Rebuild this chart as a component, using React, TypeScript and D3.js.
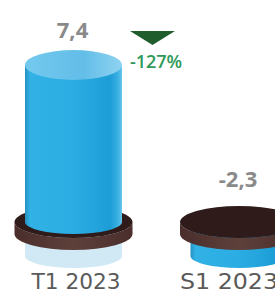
import React from "react";
import * as d3 from "d3";

const categories = ["T1 2023", "S1 2023"];
const values = [7.4, -2.3];
const valueLabels = ["7,4", "-2,3"];
const changeLabel = "-127%";

const W = 275;
const H = 293;

export default function App() {
  const x = d3.scalePoint<string>().domain(categories).range([73.5, 239]);
  const labelX = d3.scalePoint<string>().domain(categories).range([76, 229]);
  const minV = d3.min(values) as number;
  const maxV = d3.max(values) as number;
  const y = d3.scaleLinear().domain([minV, 0, maxV]).range([256, 222, 65]);

  const rx = 48.5;
  const ryTop = 15;
  const ryBot = 12;
  const R = 59;
  const Ry = 16;
  const t = 12;
  const base = y(0);

  const cyl = (cx: number, top: number, bottom: number, ryB: number) =>
    `M${cx - rx},${top} L${cx - rx},${bottom} A${rx},${ryB} 0 0 0 ${cx + rx},${bottom} L${cx + rx},${top} Z`;

  const ringSide = (cx: number, cy: number) =>
    `M${cx - R},${cy} L${cx - R},${cy + t} A${R},${Ry} 0 0 0 ${cx + R},${cy + t} L${cx + R},${cy} A${R},${Ry} 0 0 1 ${cx - R},${cy} Z`;

  return (
    <svg width={W} height={H} style={{ position: "absolute", left: 0, top: 0, background: "#fff" }}>
      <defs>
        <linearGradient id="body" x1="0" x2="1" y1="0" y2="0">
          <stop offset="0" stopColor="#2590c0" />
          <stop offset="0.05" stopColor="#31b1e5" />
          <stop offset="0.5" stopColor="#2badE3" />
          <stop offset="0.88" stopColor="#1d9dd6" />
          <stop offset="0.96" stopColor="#3ab2e3" />
          <stop offset="1" stopColor="#6cc4ea" />
        </linearGradient>
        <linearGradient id="topface" x1="0" x2="1" y1="0" y2="0">
          <stop offset="0" stopColor="#74c9ee" />
          <stop offset="0.6" stopColor="#62bde8" />
          <stop offset="1" stopColor="#8fd3f1" />
        </linearGradient>
        <linearGradient id="ringside" x1="0" x2="1" y1="0" y2="0">
          <stop offset="0" stopColor="#4a2e2b" />
          <stop offset="0.5" stopColor="#5e403b" />
          <stop offset="1" stopColor="#4a2e2b" />
        </linearGradient>
      </defs>

      {categories.map((c, i) => {
        const v = values[i];
        const cx = x(c) as number;
        const top = y(v);
        return (
          <g key={c}>
            {v >= 0 ? (
              <path d={cyl(cx, base, y(minV), ryBot)} fill="#d0e9f5" />
            ) : (
              <path d={cyl(cx, base, top, ryBot)} fill="url(#body)" />
            )}
            <path d={ringSide(cx, base)} fill="url(#ringside)" />
            <ellipse cx={cx} cy={base} rx={R} ry={Ry} fill="#301b1b" />
            {v >= 0 && (
              <g>
                <path d={cyl(cx, top, base, ryBot)} fill="url(#body)" />
                <ellipse cx={cx} cy={top} rx={rx} ry={ryTop} fill="url(#topface)" />
              </g>
            )}
            <text
              x={cx - 1}
              y={v >= 0 ? top - 27 : base - 35}
              textAnchor="middle"
              fontFamily="'Open Sans', sans-serif"
              fontSize={22}
              fontWeight={700}
              fill="#8a8a8a"
            >
              {valueLabels[i]}
            </text>
            <text
              x={labelX(c) as number}
              y={288.5}
              textAnchor="middle"
              fontFamily="'DejaVu Sans Condensed', 'DejaVu Sans', sans-serif"
              fontSize={22}
              fill="#5a5a5a"
              textLength={i === 0 ? 89 : 98}
              lengthAdjust="spacingAndGlyphs"
            >
              {c}
            </text>
          </g>
        );
      })}

      <path d="M130,31 L175,31 L152.5,45 Z" fill="#1f5e2c" />
      <text
        x={156}
        y={68}
        textAnchor="middle"
        fontFamily="'Open Sans', sans-serif"
        fontSize={18}
        fontWeight={600}
        fill="#2b9a59"
      >
        {changeLabel}
      </text>
    </svg>
  );
}
